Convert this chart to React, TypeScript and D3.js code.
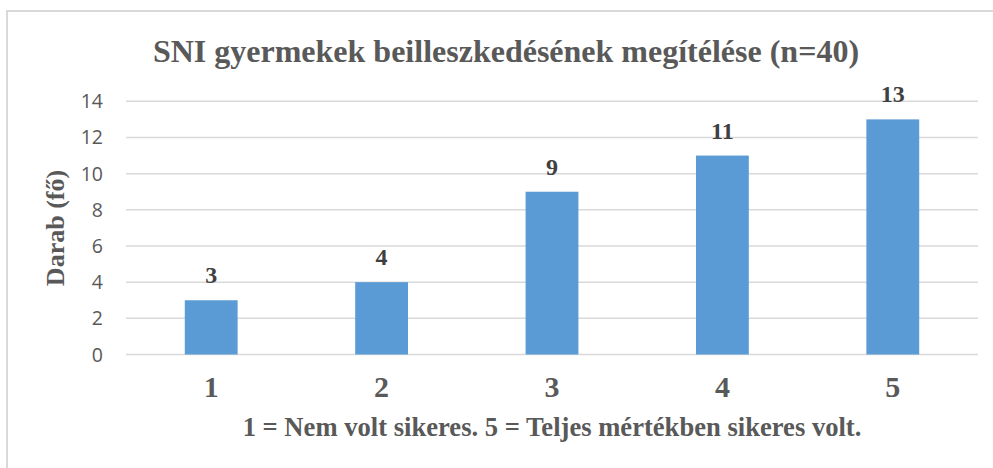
import React from "react";
import * as d3 from "d3";

const categories = ["1", "2", "3", "4", "5"];
const counts = [3, 4, 9, 11, 13];
const yTicks = [0, 2, 4, 6, 8, 10, 12, 14];
const title = "SNI gyermekek beilleszkedésének megítélése (n=40)";
const xTitle = "1 = Nem volt sikeres. 5 = Teljes mértékben sikeres volt.";
const yTitle = "Darab (fő)";

const W = 993;
const H = 468;
const serif = "'Liberation Serif', 'Times New Roman', serif";
const sans = "'Open Sans', 'Liberation Sans', sans-serif";

const App = () => {
  const x = d3
    .scaleBand<string>()
    .domain(categories)
    .range([126, 978])
    .paddingInner(0.69)
    .paddingOuter(0.345);

  const y = d3.scaleLinear().domain([0, 14]).range([354.5, 101.3]);

  return (
    <svg
      width={W}
      height={H}
      style={{ position: "absolute", left: 0, top: 0, background: "#fff" }}
    >
      {/* chart frame, only top and left edges are visible */}
      <rect x={7} y={11} width={W + 20} height={H + 20} fill="#fff" stroke="#d9d9d9" strokeWidth={2} />

      <text x={506} y={62} textAnchor="middle" fontFamily={serif} fontWeight="bold" fontSize={32} fill="#595959">
        {title}
      </text>

      {/* grid + y ticks */}
      {yTicks.map((t) => (
        <g key={t}>
          <line x1={126} x2={978} y1={y(t)} y2={y(t)} stroke="#d9d9d9" strokeWidth={1.5} />
          <text x={103} y={y(t)} dy="0.36em" textAnchor="end" fontFamily={sans} fontSize={19.5} fill="#595959">
            {t}
          </text>
        </g>
      ))}

      {/* bars */}
      {categories.map((c, i) => (
        <g key={c}>
          <rect
            x={x(c)}
            y={y(counts[i])}
            width={x.bandwidth()}
            height={y(0) - y(counts[i])}
            fill="#5b9bd5"
          />
          <text
            x={(x(c) as number) + x.bandwidth() / 2}
            y={y(counts[i]) - 17}
            textAnchor="middle"
            fontFamily={serif}
            fontWeight="bold"
            fontSize={24}
            fill="#404040"
          >
            {counts[i]}
          </text>
          <text
            x={(x(c) as number) + x.bandwidth() / 2}
            y={397}
            textAnchor="middle"
            fontFamily={serif}
            fontWeight="bold"
            fontSize={30}
            fill="#595959"
          >
            {c}
          </text>
        </g>
      ))}

      <text x={552} y={436} textAnchor="middle" fontFamily={serif} fontWeight="bold" fontSize={26.6} fill="#595959">
        {xTitle}
      </text>

      <text
        transform={`translate(64, 228) rotate(-90)`}
        textAnchor="middle"
        fontFamily={serif}
        fontWeight="bold"
        fontSize={26}
        fill="#595959"
      >
        {yTitle}
      </text>
    </svg>
  );
};

export default App;
